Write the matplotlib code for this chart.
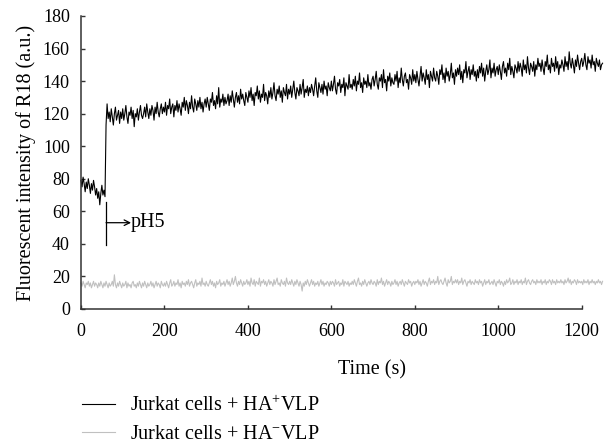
import numpy as np
import matplotlib.pyplot as plt

plt.rcParams['font.family'] = 'Liberation Serif'
plt.rcParams['mathtext.fontset'] = 'custom'
plt.rcParams['mathtext.rm'] = 'Liberation Serif'
plt.rcParams['mathtext.it'] = 'Liberation Serif:italic'

# time axis, one reading every 2.5 s
time_s = np.arange(0, 1252.5, 2.5)

# Jurkat cells + HA+ VLP (black trace), 20 readings per row (50 s)
ha_pos = [
    79, 75, 81, 77, 72, 78, 74, 80, 76, 71, 77, 73, 79, 75, 70, 74, 68, 72, 64, 71,
    76, 70, 73, 69, 113, 126, 117, 121, 115, 123, 118, 113, 120, 124, 116, 119, 122, 114, 121, 117,
    123, 116, 120, 125, 118, 114, 121, 119, 124, 117, 122, 112, 120, 118, 123, 116, 121, 125, 119, 117,
    120, 124, 118, 126, 121, 117, 123, 119, 125, 122, 116, 124, 120, 127, 121, 118, 123, 126, 120, 124,
    121, 127, 119, 125, 123, 129, 120, 124, 126, 118, 125, 122, 128, 121, 126, 123, 119, 127, 124, 130,
    122, 128, 125, 120, 127, 123, 131, 124, 121, 129, 126, 122, 128, 124, 130, 123, 127, 121, 126, 129,
    124, 130, 126, 122, 129, 127, 133, 125, 128, 123, 131, 126, 136, 124, 129, 127, 132, 125, 130, 126,
    128, 132, 125, 131, 127, 134, 129, 124, 130, 133, 127, 131, 126, 135, 129, 132, 128, 125, 133, 130,
    127, 134, 130, 136, 128, 132, 125, 133, 131, 137, 129, 134, 127, 132, 130, 138, 128, 133, 131, 126,
    134, 130, 136, 129, 133, 139, 131, 128, 135, 132, 137, 130, 134, 127, 136, 133, 131, 138, 129, 135,
    132, 137, 130, 135, 140, 133, 129, 136, 134, 131, 138, 132, 136, 141, 130, 135, 133, 137, 131, 136,
    133, 138, 135, 131, 137, 142, 134, 130, 139, 136, 133, 138, 132, 140, 135, 137, 131, 139, 136, 134,
    140, 134, 138, 143, 135, 132, 139, 137, 141, 133, 138, 136, 142, 131, 139, 137, 135, 144, 136, 138,
    135, 141, 137, 143, 134, 140, 138, 145, 136, 139, 133, 142, 138, 140, 136, 144, 137, 139, 135, 141,
    143, 137, 141, 146, 138, 135, 142, 140, 144, 136, 147, 139, 141, 134, 143, 140, 145, 137, 142, 139,
    138, 144, 140, 146, 136, 142, 139, 148, 141, 137, 143, 145, 139, 141, 135, 144, 142, 138, 147, 140,
    144, 139, 146, 141, 137, 143, 149, 140, 145, 142, 138, 147, 141, 144, 136, 146, 143, 140, 148, 142,
    140, 146, 143, 138, 147, 144, 150, 141, 145, 139, 148, 143, 146, 140, 144, 151, 142, 145, 138, 147,
    143, 148, 144, 150, 141, 146, 139, 147, 145, 152, 142, 146, 149, 141, 147, 144, 150, 143, 146, 140,
    147, 142, 149, 145, 151, 143, 148, 140, 146, 150, 144, 147, 153, 142, 148, 145, 151, 143, 147, 149,
    144, 150, 146, 141, 149, 152, 145, 148, 143, 151, 147, 154, 144, 149, 146, 142, 150, 148, 145, 152,
    146, 151, 148, 143, 153, 147, 150, 145, 155, 148, 144, 151, 149, 146, 152, 143, 150, 147, 154, 149,
    151, 146, 153, 148, 144, 152, 149, 156, 147, 150, 145, 154, 149, 151, 146, 155, 148, 152, 144, 150,
    148, 153, 150, 146, 155, 149, 152, 147, 158, 151, 148, 154, 150, 145, 153, 149, 156, 151, 147, 152,
    154, 149, 152, 157, 150, 147, 155, 151, 153, 148, 156, 150, 152, 146, 154, 151, 149, 153, 147, 150,
    151,
]

# Jurkat cells + HA- VLP (grey trace)
ha_neg = [
    16, 14, 17, 15, 13, 16, 15, 17, 14, 16, 13, 15, 17, 14, 16, 15, 13, 16, 14, 17,
    15, 13, 16, 14, 17, 15, 13, 16, 14, 15, 17, 14, 21, 15, 13, 16, 14, 17, 15, 13,
    16, 14, 15, 17, 13, 16, 14, 15, 13, 16, 17, 14, 15, 13, 16, 14, 17, 15, 13, 16,
    14, 17, 15, 13, 16, 14, 15, 17, 14, 16, 13, 15, 17, 14, 16, 15, 13, 17, 15, 14,
    16, 14, 17, 15, 13, 16, 18, 14, 15, 17, 14, 16, 15, 18, 14, 16, 13, 17, 15, 16,
    14, 17, 15, 18, 14, 16, 17, 15, 13, 16, 18, 14, 16, 15, 17, 14, 19, 15, 16, 14,
    17, 15, 14, 16, 18, 15, 17, 14, 16, 13, 17, 15, 16, 18, 14, 16, 15, 17, 14, 16,
    18, 15, 17, 14, 16, 19, 15, 17, 20, 16, 14, 17, 15, 18, 16, 14, 17, 15, 16, 18,
    15, 17, 14, 19, 16, 15, 18, 14, 17, 16, 15, 19, 14, 17, 16, 18, 15, 17, 14, 16,
    18, 15, 17, 16, 14, 18, 15, 17, 19, 15, 16, 14, 18, 16, 15, 17, 14, 19, 16, 15,
    17, 15, 18, 16, 14, 17, 15, 18, 16, 14, 17, 15, 11, 16, 14, 17, 15, 18, 16, 14,
    16, 18, 15, 17, 14, 16, 15, 17, 14, 16, 18, 15, 17, 14, 16, 15, 17, 16, 14, 17,
    15, 17, 16, 14, 18, 15, 16, 17, 14, 16, 15, 18, 14, 17, 16, 15, 17, 14, 16, 15,
    17, 15, 18, 16, 14, 17, 19, 15, 16, 14, 17, 15, 18, 16, 14, 16, 17, 15, 18, 16,
    15, 17, 16, 14, 18, 15, 17, 16, 19, 15, 17, 14, 16, 18, 15, 17, 16, 14, 17, 15,
    16, 18, 15, 17, 14, 16, 17, 15, 18, 16, 14, 17, 16, 15, 18, 16, 17, 14, 16, 17,
    15, 17, 16, 18, 15, 17, 14, 16, 18, 15, 17, 16, 14, 17, 19, 15, 17, 16, 18, 15,
    17, 16, 20, 15, 17, 18, 16, 15, 17, 19, 16, 14, 18, 16, 17, 20, 15, 17, 16, 18,
    16, 18, 15, 17, 16, 19, 15, 17, 18, 16, 14, 17, 16, 18, 15, 17, 16, 15, 18, 16,
    17, 15, 18, 16, 17, 14, 16, 18, 15, 17, 16, 18, 15, 16, 17, 15, 18, 16, 14, 17,
    16, 18, 15, 17, 16, 14, 17, 15, 18, 16, 17, 19, 15, 16, 18, 15, 17, 16, 18, 15,
    17, 16, 18, 15, 17, 16, 19, 15, 17, 18, 16, 15, 17, 18, 16, 17, 15, 18, 16, 17,
    16, 18, 15, 17, 16, 18, 15, 17, 16, 18, 17, 15, 18, 16, 17, 15, 18, 16, 17, 16,
    18, 16, 17, 15, 18, 16, 17, 19, 16, 18, 15, 17, 16, 18, 17, 15, 18, 16, 17, 16,
    17, 15, 18, 16, 17, 16, 18, 15, 17, 16, 18, 16, 17, 15, 17, 16, 18, 16, 17, 15,
    17,
]

ph5_time = 60
x_ticks = [0, 200, 400, 600, 800, 1000, 1200]
y_ticks = [0, 20, 40, 60, 80, 100, 120, 140, 160, 180]

fig = plt.figure(figsize=(6.05, 4.44), dpi=100)
ax = fig.add_axes([0.1339, 0.3041, 0.8276, 0.6599])

ax.plot(time_s, ha_neg, color='#c0c0c0', lw=0.8, clip_on=False,
        label='Jurkat cells + HA$^{-}$VLP')
ax.plot(time_s, ha_pos, color='black', lw=0.8, clip_on=False,
        label='Jurkat cells + HA$^{+}$VLP')

# pH5 marker
ax.plot([ph5_time, ph5_time], [39, 66], color='black', lw=0.9)
ax.annotate('', xy=(ph5_time + 60, 53), xytext=(ph5_time, 53),
            arrowprops=dict(arrowstyle='->', color='black', lw=0.9,
                            shrinkA=0, shrinkB=0))
ax.text(ph5_time + 60, 53, 'pH5', fontsize=14.5, va='center', ha='left')

ax.set_xlim(0, 1200)
ax.set_ylim(0, 180)
ax.set_xticks(x_ticks)
ax.set_yticks(y_ticks)
for s in ['top', 'right']:
    ax.spines[s].set_visible(False)
for s in ['left', 'bottom']:
    ax.spines[s].set_color('#333333')
    ax.spines[s].set_linewidth(1.1)
ax.tick_params(direction='in', length=3, width=1, color='#333333', labelsize=13)
ax.tick_params(axis='y', pad=8)
ax.tick_params(axis='x', pad=10)

ax.set_ylabel('Fluorescent intensity of R18 (a.u.)', fontsize=14.5, labelpad=5)
fig.text(372 / 605, 1 - 370 / 444, 'Time (s)', fontsize=14.5, ha='center', va='center')

handles, labels = ax.get_legend_handles_labels()
fig.legend(handles[::-1], labels[::-1], loc='upper left',
           bbox_to_anchor=(74 / 605, 1 - 388 / 444), frameon=False,
           fontsize=14.5, handlelength=1.65, handletextpad=0.75, labelspacing=0.42,
           borderaxespad=0)

fig.savefig('out.png', dpi=100)
